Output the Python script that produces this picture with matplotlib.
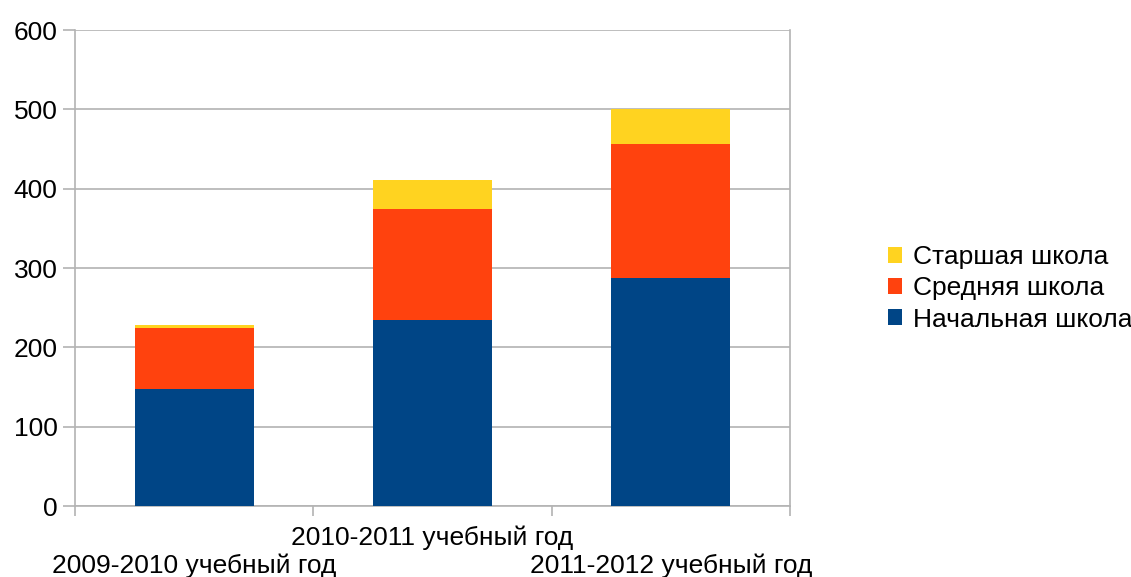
import matplotlib.pyplot as plt
import matplotlib.transforms as mtransforms
import numpy as np

plt.rcParams['font.family'] = ['Liberation Sans', 'DejaVu Sans']

years = ["2009-2010 учебный год", "2010-2011 учебный год", "2011-2012 учебный год"]
series = ["Начальная школа", "Средняя школа", "Старшая школа"]
primary = [147, 235, 287]
middle = [77, 140, 169]
senior = [4, 36, 44]
colors = ["#004586", "#ff420e", "#ffd320"]

fig = plt.figure(figsize=(11.31, 5.77), dpi=100)
ax = fig.add_axes([0.0663, 0.123, 0.6322, 0.825])

x = np.arange(len(years))
bottom = np.zeros(len(years))
bars = []
for vals, name, c in zip([primary, middle, senior], series, colors):
    b = ax.bar(x, vals, width=0.5, bottom=bottom, color=c, label=name, zorder=3)
    bars.append(b)
    bottom += np.array(vals)

grid_c = "#b3b3b3"
ax.set_xlim(-0.5, 2.5)
ax.set_ylim(0, 600)
ax.set_yticks(range(0, 601, 100))
ax.yaxis.grid(True, color=grid_c, linewidth=1.2, zorder=0)
for s in ["left", "right", "top", "bottom"]:
    ax.spines[s].set_color(grid_c)
    ax.spines[s].set_linewidth(1.2)
ax.spines["top"].set_visible(False)

ax.set_xticks(x)
ax.set_xticklabels(years, fontsize=19)
ax.tick_params(axis="x", which="major", length=0, pad=14)
# stagger outer labels one row lower
shift = mtransforms.ScaledTranslation(0, -0.28, fig.dpi_scale_trans)
labs = ax.get_xticklabels()
for i in (0, 2):
    labs[i].set_transform(labs[i].get_transform() + shift)
ax.set_xticks([-0.5, 0.5, 1.5, 2.5], minor=True)
ax.tick_params(axis="x", which="minor", length=7.2, color=grid_c, width=1.2)
ax.tick_params(axis="y", length=8.6, color=grid_c, width=1.2, labelsize=19, pad=4)

handles = bars[::-1]
ax.legend(handles, [b.get_label() for b in handles], loc="center left",
          bbox_to_anchor=(0.764, 0.5), bbox_transform=fig.transFigure,
          frameon=False, fontsize=19, handlelength=0.55, handleheight=0.55,
          handletextpad=0.4, labelspacing=0.27)

fig.savefig("out.png", dpi=100)
